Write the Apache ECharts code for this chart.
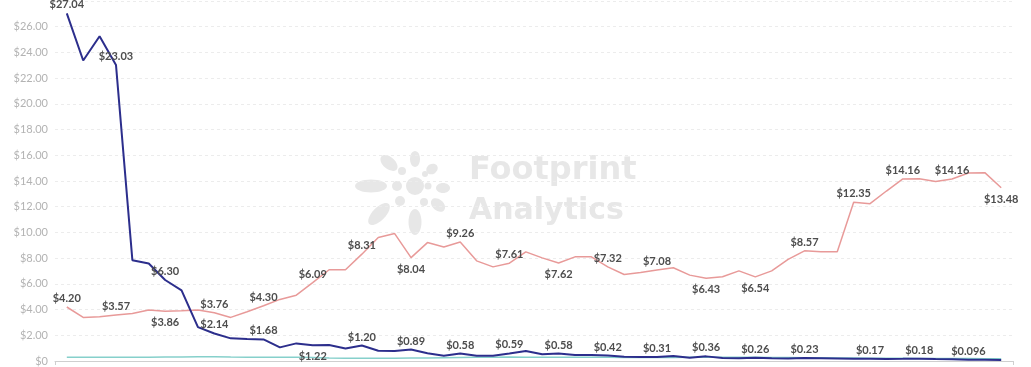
<!DOCTYPE html>
<html>
<head>
<meta charset="utf-8">
<script src="https://cdn.jsdelivr.net/npm/echarts@6/dist/echarts.min.js"></script>
<style>
  html, body { margin: 0; padding: 0; background: #fff; }
  #chart { width: 1031px; height: 367px; }
</style>
</head>
<body>
<div id="chart"></div>
<script>
// Weekly closing prices (USD), one value per week, oldest first.
const navyPrice = [
  27.04, 23.37, 25.26, 23.03, 7.84, 7.58, 6.30, 5.50, 2.64, 2.14,
  1.76, 1.71, 1.68, 1.06, 1.37, 1.22, 1.24, 0.98, 1.20, 0.80,
  0.78, 0.89, 0.60, 0.41, 0.58, 0.41, 0.41, 0.59, 0.78, 0.52,
  0.58, 0.47, 0.47, 0.42, 0.33, 0.31, 0.31, 0.39, 0.26, 0.36,
  0.23, 0.21, 0.26, 0.22, 0.20, 0.23, 0.22, 0.20, 0.18, 0.17,
  0.16, 0.17, 0.18, 0.15, 0.13, 0.096, 0.088, 0.08
];
const pinkPrice = [
  4.20, 3.39, 3.44, 3.57, 3.70, 3.96, 3.86, 3.90, 3.96, 3.76,
  3.39, 3.83, 4.30, 4.79, 5.12, 6.09, 7.10, 7.10, 8.31, 9.60,
  9.91, 8.04, 9.21, 8.87, 9.26, 7.79, 7.32, 7.61, 8.49, 8.02,
  7.62, 8.10, 8.10, 7.32, 6.73, 6.89, 7.08, 7.25, 6.68, 6.43,
  6.55, 7.01, 6.54, 7.01, 7.90, 8.57, 8.50, 8.50, 12.35, 12.24,
  13.22, 14.16, 14.18, 13.97, 14.16, 14.62, 14.65, 13.48
];
const tealPrice = [
  0.29, 0.29, 0.29, 0.29, 0.30, 0.30, 0.31, 0.32, 0.34, 0.33,
  0.31, 0.30, 0.30, 0.29, 0.29, 0.27, 0.24, 0.22, 0.21, 0.21,
  0.22, 0.23, 0.24, 0.26, 0.28, 0.29, 0.30, 0.31, 0.30, 0.30,
  0.29, 0.29, 0.29, 0.29, 0.28, 0.28, 0.28, 0.28, 0.29, 0.30,
  0.30, 0.30, 0.29, 0.28, 0.27, 0.26, 0.25, 0.24, 0.23, 0.22,
  0.21, 0.21, 0.20, 0.20, 0.19, 0.19, 0.18, 0.18
];
// Weeks whose price is printed on the line.
const navyLabelWeeks = [0, 3, 6, 9, 12, 15, 18, 21, 24, 27, 30, 33, 36, 39, 42, 45, 49, 52, 55];
const pinkLabelWeeks = [0, 3, 6, 9, 12, 15, 18, 21, 24, 27, 30, 33, 36, 39, 42, 45, 48, 51, 54, 57];
// Price axis ticks.
const yMin = 0, yMax = 28, yStep = 2;

const weekCount = navyPrice.length;
const xPad = 0.72;

function money(v) {
  if (v === 0) return '$0';
  return '$' + (Math.abs(v) >= 0.1 ? v.toFixed(2) : v.toPrecision(2));
}

// A printed price sits under the line when that week is a local low.
function isLow(arr, i) {
  const prev = i > 0 ? arr[i - 1] : Infinity;
  const next = i < arr.length - 1 ? arr[i + 1] : Infinity;
  return arr[i] < prev && arr[i] <= next;
}

const labelText = {
  fontFamily: 'Lato', fontSize: 11, fontWeight: 'bold', color: '#4d4d4d'
};

function buildData(arr, labelWeeks) {
  return arr.map((v, i) => {
    if (!labelWeeks.includes(i)) return [i, v];
    const low = isLow(arr, i);
    return {
      value: [i, v],
      label: Object.assign({
        show: true,
        position: low ? 'bottom' : 'top',
        distance: low ? 6 : 3,
        formatter: p => money(p.value[1])
      }, labelText)
    };
  });
}

function lineSeries(name, arr, labelWeeks, color, width, z) {
  return {
    name, type: 'line', z,
    data: buildData(arr, labelWeeks),
    symbol: 'circle', symbolSize: 0.1, showSymbol: true,
    itemStyle: { color },
    lineStyle: { color, width },
    label: { show: false },
    emphasis: { disabled: true },
    animation: false
  };
}

// Faint brand mark behind the plot.
const markColor = '#e7e7e7';
const petals = [
  { x: 371, y: 186, rx: 16, ry: 6.5, rot: 0 },
  { x: 389, y: 163, rx: 10, ry: 6, rot: -0.7 },
  { x: 415, y: 159, rx: 5, ry: 8, rot: 0 },
  { x: 379, y: 214, rx: 14, ry: 6.5, rot: 0.8 },
  { x: 415, y: 222, rx: 6.5, ry: 13, rot: 0 },
  { x: 438, y: 205, rx: 8, ry: 5.5, rot: -0.7 },
  { x: 443, y: 188, rx: 7, ry: 5, rot: 0 },
  { x: 432, y: 169, rx: 6, ry: 5, rot: 0.6 }
];
const dots = [
  { x: 415, y: 186, r: 9 },
  { x: 402, y: 171, r: 4 },
  { x: 397, y: 186, r: 5 },
  { x: 400, y: 201, r: 5 },
  { x: 424, y: 202, r: 4 },
  { x: 428, y: 186, r: 3.5 },
  { x: 425, y: 174, r: 3 }
];
const graphic = [];
petals.forEach(p => graphic.push({
  type: 'ellipse', x: p.x, y: p.y, rotation: p.rot, z: -10, silent: true,
  shape: { cx: 0, cy: 0, rx: p.rx, ry: p.ry }, style: { fill: markColor }
}));
dots.forEach(d => graphic.push({
  type: 'circle', z: -10, silent: true,
  shape: { cx: d.x, cy: d.y, r: d.r }, style: { fill: markColor }
}));
graphic.push({
  type: 'text', left: 469, top: 155, z: -10, silent: true,
  style: { text: 'Footprint', fill: markColor, font: 'bold 32px "DejaVu Sans"' }
});
graphic.push({
  type: 'text', left: 469, top: 196, z: -10, silent: true,
  style: { text: 'Analytics', fill: markColor, font: 'bold 30px "DejaVu Sans"' }
});

const chart = echarts.init(document.getElementById('chart'), null, { renderer: 'canvas' });
chart.setOption({
  backgroundColor: '#fff',
  animation: false,
  graphic,
  grid: { left: 55, right: 18, top: 1, bottom: 6, containLabel: false },
  xAxis: {
    type: 'value',
    min: -xPad, max: weekCount - 1 + xPad,
    axisLine: { show: true, lineStyle: { color: '#cfcfcf', width: 1 } },
    axisTick: { show: true, customValues: [-xPad, weekCount - 1 + xPad], length: 4, lineStyle: { color: '#cfcfcf' } },
    axisLabel: { show: false },
    splitLine: { show: false }
  },
  yAxis: {
    type: 'value',
    min: yMin, max: yMax, interval: yStep,
    axisLine: { show: false },
    axisTick: { show: false },
    axisLabel: {
      showMaxLabel: false,
      margin: 7,
      color: '#b3b3b3', fontFamily: 'Lato', fontSize: 11,
      formatter: v => v === 0 ? '$0' : '$' + v.toFixed(2)
    },
    splitLine: { show: true, lineStyle: { color: '#ececec', type: [3, 3], width: 1 } }
  },
  series: [
    lineSeries('pink', pinkPrice, pinkLabelWeeks, '#e89a99', 1.5, 2),
    lineSeries('teal', tealPrice, [], '#86d0cb', 1.5, 3),
    lineSeries('navy', navyPrice, navyLabelWeeks, '#2c2e8c', 2, 4)
  ]
});
</script>
</body>
</html>
